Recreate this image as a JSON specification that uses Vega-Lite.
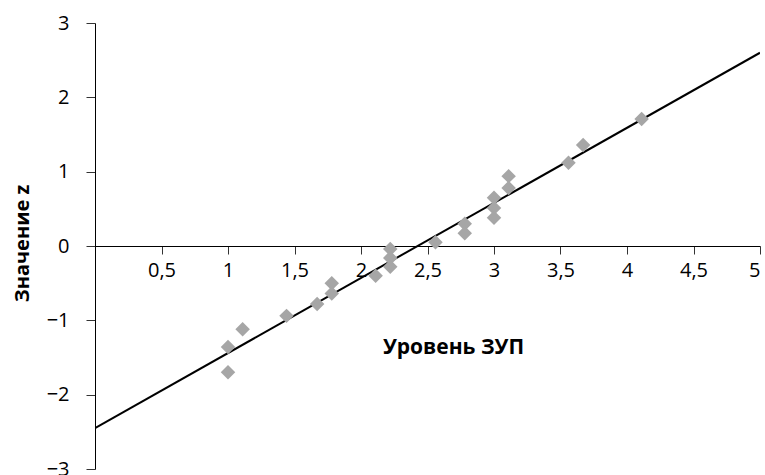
{
  "$schema": "https://vega.github.io/schema/vega-lite/v6.json",
  "width": 665,
  "height": 446,
  "autosize": {"type": "none"},
  "padding": {"left": 95, "top": 23, "right": 5, "bottom": 6},
  "background": "white",
  "config": {
    "view": {"stroke": null},
    "font": "Open Sans",
    "axis": {"grid": false, "domainColor": "#000", "tickColor": "#333", "labelColor": "#000", "titleColor": "#000", "labelFont": "Open Sans", "titleFont": "Open Sans"}
  },
  "datasets": {
    "points": [
      {"x": 1.0, "z": -1.36},
      {"x": 1.0, "z": -1.7},
      {"x": 1.11, "z": -1.12},
      {"x": 1.44, "z": -0.94},
      {"x": 1.67, "z": -0.78},
      {"x": 1.78, "z": -0.5},
      {"x": 1.78, "z": -0.64},
      {"x": 2.11, "z": -0.4},
      {"x": 2.22, "z": -0.04},
      {"x": 2.22, "z": -0.16},
      {"x": 2.22, "z": -0.28},
      {"x": 2.56, "z": 0.05},
      {"x": 2.78, "z": 0.3},
      {"x": 2.78, "z": 0.17},
      {"x": 3.0, "z": 0.65},
      {"x": 3.0, "z": 0.51},
      {"x": 3.0, "z": 0.38},
      {"x": 3.11, "z": 0.94},
      {"x": 3.11, "z": 0.78},
      {"x": 3.56, "z": 1.12},
      {"x": 3.67, "z": 1.36},
      {"x": 4.11, "z": 1.71}
    ],
    "fit": [
      {"x": 0, "z": -2.45},
      {"x": 5, "z": 2.6}
    ]
  },
  "layer": [
    {
      "data": {"name": "fit"},
      "mark": {"type": "line", "color": "#000", "strokeWidth": 2, "clip": true},
      "encoding": {
        "x": {
          "field": "x", "type": "quantitative",
          "scale": {"domain": [0, 5], "nice": false, "zero": false},
          "axis": {
            "values": [0.5, 1, 1.5, 2, 2.5, 3, 3.5, 4, 4.5, 5],
            "offset": -223,
            "labelExpr": "replace(format(datum.value, '~g'), '.', ',')",
            "labelFontSize": 20,
            "labelPadding": 6,
            "tickSize": 8,
            "title": "Уровень ЗУП",
            "titleFontSize": 21,
            "titleFontWeight": "bold",
            "titleX": 358,
            "titleY": 101,
            "titleAnchor": null,
            "titleAlign": "center",
            "titleBaseline": "middle"
          }
        },
        "y": {
          "field": "z", "type": "quantitative",
          "scale": {"domain": [-3, 3], "nice": false, "zero": false},
          "axis": {
            "values": [-3, -2, -1, 0, 1, 2, 3],
            "labelExpr": "format(datum.value, '~g')",
            "labelFontSize": 20,
            "labelPadding": 17,
            "tickSize": 9,
            "title": "Значение z",
            "titleFontSize": 20,
            "titleFontWeight": "bold",
            "titleAngle": 270,
            "titleX": -73,
            "titleY": 220,
            "titleAlign": "center",
            "titleBaseline": "middle"
          }
        }
      }
    },
    {
      "data": {"name": "points"},
      "mark": {"type": "point", "shape": "diamond", "filled": true, "color": "#A6A6A6", "opacity": 1, "size": 210},
      "encoding": {
        "x": {"field": "x", "type": "quantitative"},
        "y": {"field": "z", "type": "quantitative"}
      }
    }
  ]
}
